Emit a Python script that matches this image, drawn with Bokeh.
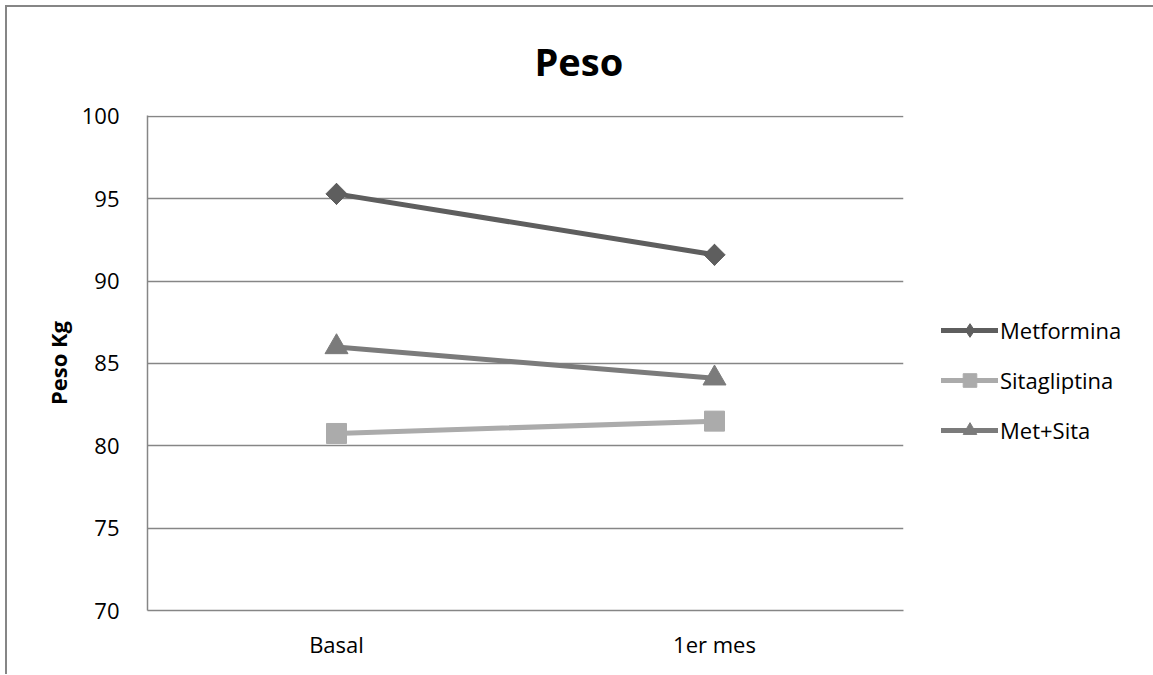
from bokeh.plotting import figure
from bokeh.models import Range1d, Legend, LegendItem, FixedTicker
from bokeh.embed import file_html
from bokeh.resources import INLINE

# Data
periods = ["Basal", "1er mes"]
metformina = [95.3, 91.6]
sitagliptina = [80.75, 81.5]
met_sita = [86.0, 84.1]
y_ticks = [70, 75, 80, 85, 90, 95, 100]

FONT = "Open Sans"
GRID = "#868686"

p = figure(
    x_range=periods,
    y_range=Range1d(70, 100.06),
    frame_width=756, frame_height=495,
    output_backend="svg",
    toolbar_location=None,
    min_border_left=140, min_border_top=108,
    min_border_right=10, min_border_bottom=64,
)
p.margin = (5, 0, 0, 5)
p.styles = {"border-left": "2px solid #868686", "border-top": "2px solid #868686"}
p.outline_line_color = None
p.background_fill_color = "white"
p.border_fill_color = "white"

# Title
p.title.text = "Peso"
p.title.align = "left"
p.title.offset = 387
p.title.text_color = "black"
p.title.text_font = FONT
p.title.text_font_size = "38px"
p.title.text_font_style = "bold"
p.title.vertical_align = "top"
p.title.standoff = 53

# Axes
p.yaxis.ticker = FixedTicker(ticks=y_ticks)
p.yaxis.axis_label = "Peso Kg"
p.yaxis.axis_label_text_font = FONT
p.yaxis.axis_label_text_font_size = "22px"
p.yaxis.axis_label_text_font_style = "bold"
p.yaxis.axis_label_text_color = "black"
p.yaxis.axis_label_standoff = 6
for ax in (p.xaxis, p.yaxis):
    ax.major_label_text_font = FONT
    ax.major_label_text_font_size = "22px"
    ax.major_label_text_color = "black"
    ax.major_tick_line_color = None
    ax.minor_tick_line_color = None
    ax.axis_line_color = GRID
    ax.axis_line_width = 1.5
p.yaxis.major_label_standoff = 22
p.xaxis.major_label_standoff = 12

p.xgrid.grid_line_color = None
p.ygrid.grid_line_color = GRID
p.ygrid.grid_line_width = 1.5

# name, values, colour, plot marker, size, angle
series = [
    ("Metformina", metformina, "#5e5e5e", "square", 15, 0.785398),
    ("Sitagliptina", sitagliptina, "#ababab", "square", 20, 0.0),
    ("Met+Sita", met_sita, "#7b7b7b", "triangle", 23, 0.0),
]

items = []
for name, vals, color, marker, size, angle in series:
    ln = p.line(periods, vals, line_color=color, line_width=5, line_cap="round")
    key = None
    if angle:
        # upright diamond for the legend key, hidden under the turned square
        key = p.scatter(periods, vals, marker="diamond", size=size * 1.4,
                        fill_color=color, line_color=color)
    sc = p.scatter(periods, vals, marker=marker, size=size, angle=angle,
                   fill_color=color, line_color=color)
    items.append(LegendItem(label=name, renderers=[ln, key or sc]))

legend = Legend(
    items=items,
    location=(38, 163),
    glyph_width=57, glyph_height=34, label_height=30,
    spacing=16, label_standoff=2, padding=0, margin=0,
    border_line_color=None, background_fill_alpha=0,
    label_text_font=FONT, label_text_font_size="22px",
    label_text_color="black",
)
p.add_layout(legend, "right")

html = file_html(p, INLINE)
html = html.replace("<head>", "<head><style>html,body{margin:0;overflow:hidden;}</style>", 1)
open("out.html", "w").write(html)
